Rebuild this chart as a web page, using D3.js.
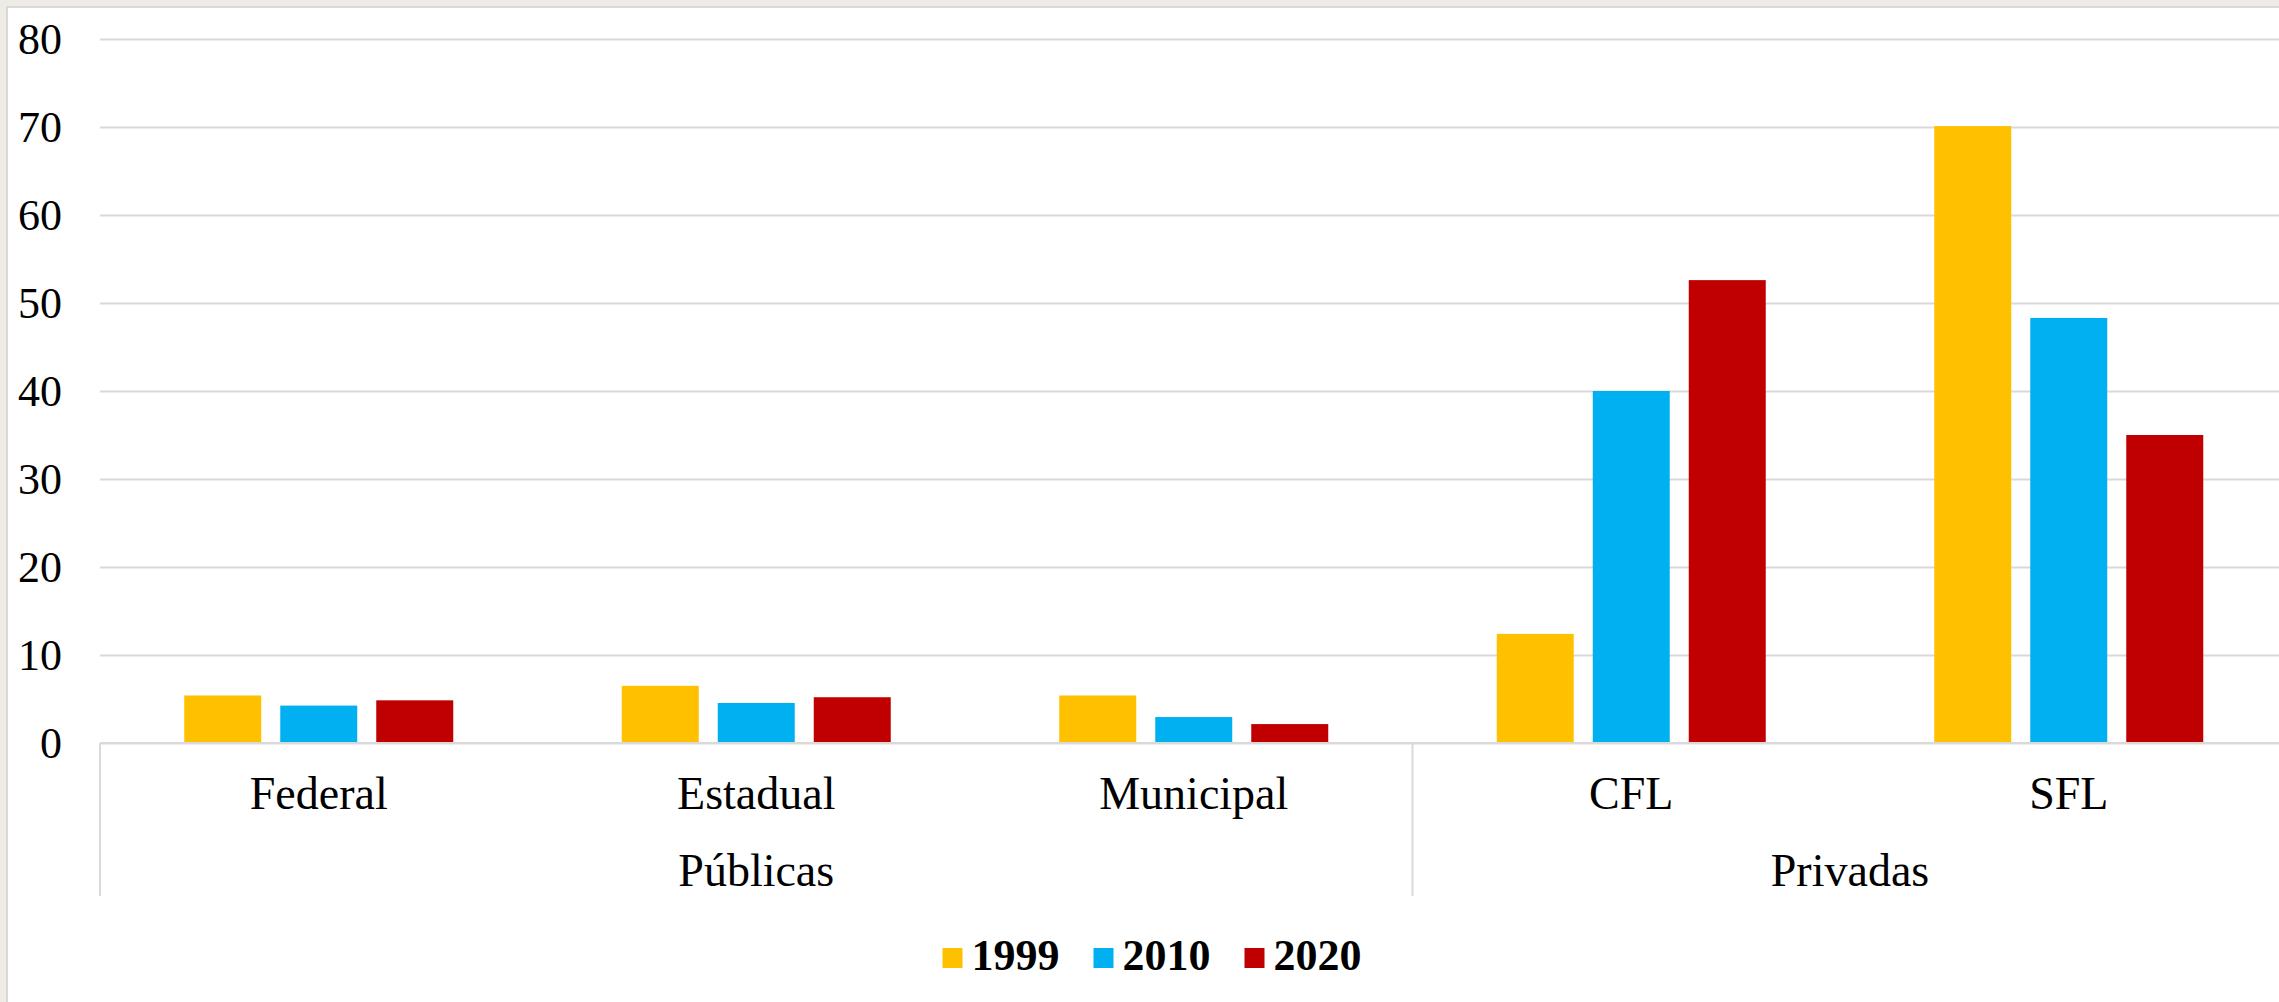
<!DOCTYPE html>
<meta charset="utf-8">
<style>
body { margin: 0; background: #eeebe4; }
svg { display: block; }
text { font-family: "Liberation Serif", "Times New Roman", serif; fill: #000; }
.tick line { stroke: #d9d9d9; stroke-width: 2px; }
.tick text { font-size: 46px; }
.ytick .tick text { font-size: 44px; }
.legend text { font-size: 44px; font-weight: bold; }
</style>
<svg width="2279" height="1002"></svg>
<script src="https://cdn.jsdelivr.net/npm/d3@7"></script>
<script>

// data
var categories = ["Federal", "Estadual", "Municipal", "CFL", "SFL"];
var groupOf = ["Públicas", "Públicas", "Públicas", "Privadas", "Privadas"];
var years = ["1999", "2010", "2020"];
var v1999 = [5.4, 6.5, 5.4, 12.4, 70.1];
var v2010 = [4.25, 4.55, 2.95, 40.0, 48.3];
var v2020 = [4.85, 5.2, 2.15, 52.6, 35.0];
var yTicks = [0, 10, 20, 30, 40, 50, 60, 70, 80];
var colors = ["#ffc000", "#00b0f0", "#c00000"];

var series = [v1999, v2010, v2020];

var svg = d3.select("svg"),
    width = +svg.attr("width"),
    height = +svg.attr("height");

var margin = {left: 100, top: 39, bottom: 743, right: 2287.5};

// chart frame
svg.append("rect")
    .attr("width", width).attr("height", height)
    .attr("fill", "#eeebe4");
svg.append("rect")
    .attr("x", 7).attr("y", 7)
    .attr("width", width + 20).attr("height", height + 20)
    .attr("fill", "#fff")
    .attr("stroke", "#d9d9d9")
    .attr("stroke-width", 2);

var x0 = d3.scaleBand()
    .domain(categories)
    .range([margin.left, margin.right]);

var x1 = d3.scaleBand()
    .domain(years)
    .range([0, x0.bandwidth()])
    .paddingInner(0.198)
    .paddingOuter(0.8776);

var y = d3.scaleLinear()
    .domain([0, 80])
    .range([margin.bottom, margin.top]);

var color = d3.scaleOrdinal().domain(years).range(colors);

// y axis with gridlines
var yAxis = svg.append("g")
    .attr("class", "ytick")
    .attr("transform", "translate(" + margin.left + ",0)")
    .call(d3.axisLeft(y)
      .tickValues(yTicks)
      .tickSizeInner(-(margin.right - margin.left))
      .tickSizeOuter(0)
      .tickPadding(38));
yAxis.select(".domain").remove();
yAxis.selectAll(".tick text")
    .attr("dy", "0.33em");

// bars
var rows = categories.map(function(c, i) {
  return {cat: c, values: years.map(function(yr, j) { return {year: yr, value: series[j][i]}; })};
});

svg.append("g")
  .selectAll("g")
  .data(rows)
  .enter().append("g")
    .attr("transform", function(d) { return "translate(" + x0(d.cat) + ",0)"; })
  .selectAll("rect")
  .data(function(d) { return d.values; })
  .enter().append("rect")
    .attr("x", function(d) { return x1(d.year); })
    .attr("width", x1.bandwidth())
    .attr("y", function(d) { return y(d.value); })
    .attr("height", function(d) { return y(0) - y(d.value); })
    .attr("fill", function(d) { return color(d.year); });

// baseline
svg.append("line")
    .attr("x1", margin.left).attr("x2", margin.right)
    .attr("y1", y(0)).attr("y2", y(0))
    .attr("stroke", "#d9d9d9").attr("stroke-width", 2);

// category labels
var xAxis = svg.append("g")
    .attr("transform", "translate(0," + y(0) + ")")
    .call(d3.axisBottom(x0).tickSize(0).tickPadding(0));
xAxis.select(".domain").remove();
xAxis.selectAll(".tick text")
    .attr("y", 66)
    .attr("dy", 0);

// group labels and separators
var groupNames = [];
groupOf.forEach(function(g) { if (groupNames.indexOf(g) < 0) groupNames.push(g); });
var groupSpans = groupNames.map(function(g) {
  var cats = categories.filter(function(c, i) { return groupOf[i] === g; });
  return {name: g, x0: x0(cats[0]), x1: x0(cats[cats.length - 1]) + x0.bandwidth()};
});

var sepX = [margin.left].concat(groupSpans.map(function(d) { return d.x1; }));
svg.append("g")
  .selectAll("line")
  .data(sepX)
  .enter().append("line")
    .attr("x1", function(d) { return d; })
    .attr("x2", function(d) { return d; })
    .attr("y1", y(0))
    .attr("y2", 896)
    .attr("stroke", "#d9d9d9")
    .attr("stroke-width", 2);

svg.append("g")
  .selectAll("text")
  .data(groupSpans)
  .enter().append("text")
    .attr("x", function(d) { return (d.x0 + d.x1) / 2; })
    .attr("y", 886)
    .attr("text-anchor", "middle")
    .style("font-size", "46px")
    .text(function(d) { return d.name; });

// legend
var legend = svg.append("g").attr("class", "legend");
var item = legend.selectAll("g")
    .data(years)
    .enter().append("g");
item.append("rect")
    .attr("width", 20).attr("height", 20)
    .attr("y", 948)
    .attr("fill", function(d) { return color(d); });
item.append("text")
    .attr("x", 29)
    .attr("y", 970)
    .text(function(d) { return d; });

var lx = 0, offs = [];
item.each(function() {
  offs.push(lx);
  lx += 29 + this.querySelector("text").getComputedTextLength() + 34;
});
var legendW = lx - 34;
item.attr("transform", function(d, i) { return "translate(" + (1152 - legendW / 2 + offs[i]) + ",0)"; });

</script>
